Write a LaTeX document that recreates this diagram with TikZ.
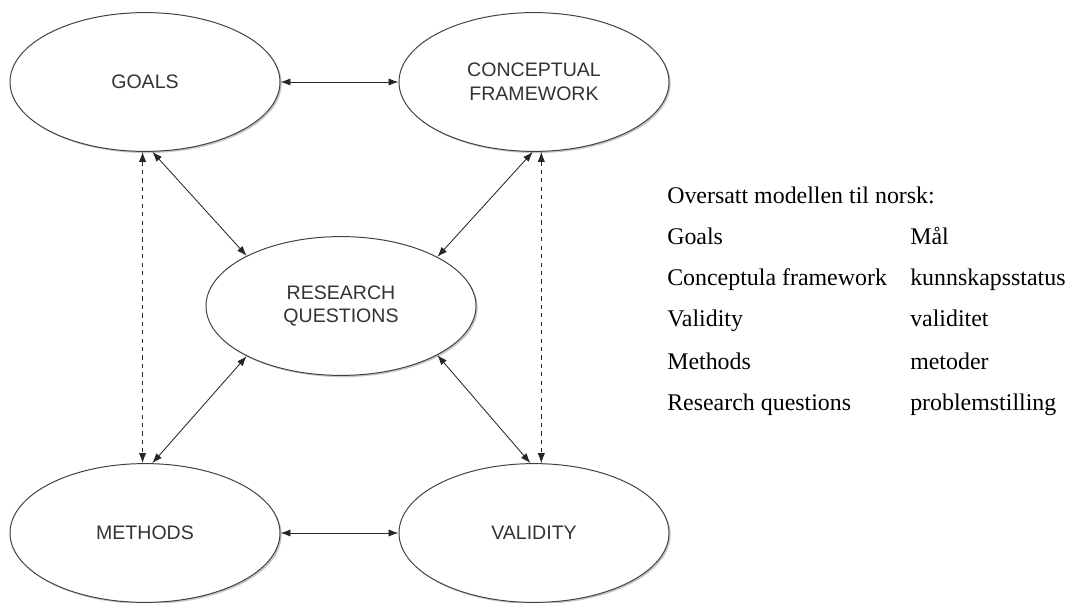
\documentclass[tikz,border=0pt]{standalone}
\usepackage{fontspec}
\setmainfont{Liberation Serif}
\setsansfont{Liberation Sans}
\usetikzlibrary{shapes.geometric,arrows.meta,shadows}

\begin{document}
\begin{tikzpicture}[
    elli/.style={ellipse, draw=black!75, line width=0.7pt, fill=white,
      minimum width=6.75cm, minimum height=3.47cm, align=center, text=black!80,
      font=\sffamily\fontsize{13.9}{16.8}\selectfont,
      drop shadow={shadow xshift=1.2pt, shadow yshift=-1.2pt, opacity=0.45}},
    link/.style={draw=black!85, line width=0.6pt,
      {Latex[length=2.5mm,width=1.8mm]}-{Latex[length=2.5mm,width=1.8mm]}},
    word/.style={anchor=base west, inner sep=0pt, font=\fontsize{17}{20}\selectfont}]
    \useasboundingbox (0,0) rectangle (26.7,-15.075);
    % modellen
    \node[elli] (G) at (3.625,-2.05) {GOALS};
    \node[elli] (C) at (13.35,-2.05) {CONCEPTUAL\\FRAMEWORK};
    \node[elli] (R) at (8.525,-7.65) {RESEARCH\\QUESTIONS};
    \node[elli] (M) at (3.625,-13.325) {METHODS};
    \node[elli] (V) at (13.35,-13.325) {VALIDITY};
    \draw[link] (G.east) -- (C.west);
    \draw[link] (M.east) -- (V.west);
    \draw[link] (G.-84.3) -- (R.152.5);
    \draw[link] (C.-91.6) -- (R.27.5);
    \draw[link] (M.84.3) -- (R.-152.5);
    \draw[link] (V.93.3) -- (R.-27.5);
    \draw[link, dashed] (G.-92.5) -- (M.92.5);
    \draw[link, dashed] (C.-84.3) -- (V.84.3);
    % oversettelse
    \node[word] (T) at (16.675,-5.1) {Oversatt modellen til norsk:};
    \node[word] (E1) at (16.675,-6.125) {Goals};
    \node[word] (E2) at (16.675,-7.15) {Conceptula framework};
    \node[word] (E3) at (16.675,-8.175) {Validity};
    \node[word] (E4) at (16.675,-9.225) {Methods};
    \node[word] (E5) at (16.675,-10.25) {Research questions};
    \node[word] (N1) at (22.75,-6.125) {Mål};
    \node[word] (N2) at (22.75,-7.15) {kunnskapsstatus};
    \node[word] (N3) at (22.75,-8.175) {validitet};
    \node[word] (N4) at (22.75,-9.225) {metoder};
    \node[word] (N5) at (22.75,-10.25) {problemstilling};
\end{tikzpicture}
\end{document}
